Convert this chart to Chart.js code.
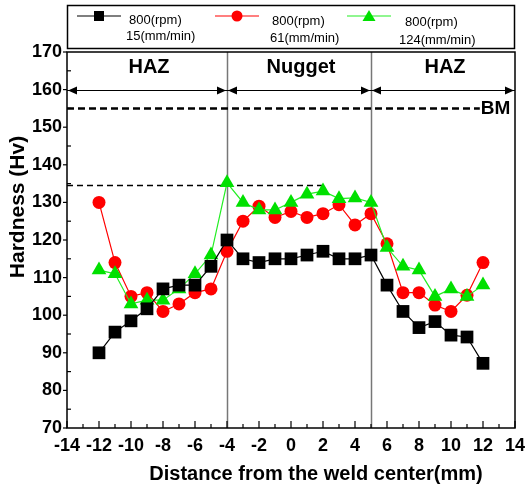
<!DOCTYPE html>
<html><head><meta charset="utf-8">
<script src="https://cdn.jsdelivr.net/npm/chart.js@4/dist/chart.umd.min.js"></script>
<style>html,body{margin:0;padding:0;background:#fff}#wrap{width:529px;height:490px}</style>
</head><body><div id="wrap"><canvas id="c" width="529" height="490"></canvas></div>
<script>
const distances = [-12,-11,-10,-9,-8,-7,-6,-5,-4,-3,-2,-1,0,1,2,3,4,5,6,7,8,9,10,11,12];
const hv15  = [90,95.5,98.5,101.7,107,108,108,113,120,115,114,115,115,116,117,115,115,116,108,101,96.7,98.3,94.7,94.2,87.2];
const hv61  = [130,114,105,106,101,103,106,107,117,125,129,126,127.6,126,127,129.4,124,127,119,106,106,102.7,101,105.3,114];
const hv124 = [112,111,103,104,104,107,111,116,135.2,130,128,128,130,132.2,133,131,131.2,130,118,113,112,105,107,105,108];
const seriesLabels = [["800(rpm)","15(mm/min)"],["800(rpm)","61(mm/min)"],["800(rpm)","124(mm/min)"]];
const zoneBounds = [-14,-4,5,14];
const zoneNames = ["HAZ","Nugget","HAZ"];
const bmLevel = 155, zoneLevel = 160, peakLevel = 134.5, peakEnd = 2, bmEnd = 11.8;
const xTitle = "Distance from the weld center(mm)";
const yTitle = "Hardness (Hv)";

const FONT = '"Liberation Sans", Arial, sans-serif';
const pts = arr => distances.map((d,i)=>({x:d,y:arr[i]}));

const annot = {
  id:'annot',
  beforeDatasetsDraw(chart){
    const ctx=chart.ctx, xs=chart.scales.x, ys=chart.scales.y, a=chart.chartArea;
    ctx.save();
    ctx.strokeStyle='#777'; ctx.lineWidth=1.5;
    [zoneBounds[1],zoneBounds[2]].forEach(v=>{
      const px=Math.round(xs.getPixelForValue(v))+0.5;
      ctx.beginPath(); ctx.moveTo(px,a.top); ctx.lineTo(px,a.bottom); ctx.stroke();
    });
    ctx.strokeStyle='#000'; ctx.lineWidth=2.5; ctx.setLineDash([7,4]);
    let py=ys.getPixelForValue(bmLevel);
    ctx.beginPath(); ctx.moveTo(a.left,py); ctx.lineTo(xs.getPixelForValue(bmEnd),py); ctx.stroke();
    ctx.lineWidth=1.3; ctx.setLineDash([6,4]);
    py=ys.getPixelForValue(peakLevel);
    ctx.beginPath(); ctx.moveTo(a.left,py); ctx.lineTo(xs.getPixelForValue(peakEnd),py); ctx.stroke();
    ctx.setLineDash([]);
    py=Math.round(ys.getPixelForValue(zoneLevel))+0.5;
    ctx.lineWidth=1.2;
    ctx.beginPath(); ctx.moveTo(a.left,py); ctx.lineTo(a.right,py); ctx.stroke();
    ctx.fillStyle='#000';
    const head=(x,dir)=>{ctx.beginPath();ctx.moveTo(x,py);ctx.lineTo(x-dir*9,py-4);ctx.lineTo(x-dir*9,py+4);ctx.closePath();ctx.fill();};
    for(let i=0;i<zoneNames.length;i++){
      const x0=xs.getPixelForValue(zoneBounds[i]), x1=xs.getPixelForValue(zoneBounds[i+1]);
      head(x0+1,-1); head(x1-1,1);
      ctx.font='bold 20px '+FONT; ctx.textAlign='center'; ctx.textBaseline='middle';
      ctx.fillText(zoneNames[i],(x0+x1)/2+2,ys.getPixelForValue(166));
    }
    ctx.font='bold 19px '+FONT; ctx.textAlign='left';
    ctx.fillText('BM',xs.getPixelForValue(bmEnd)+1,ys.getPixelForValue(bmLevel));
    ctx.restore();
  },
  afterDraw(chart){
    const ctx=chart.ctx, xs=chart.scales.x, ys=chart.scales.y, a=chart.chartArea;
    ctx.save();
    ctx.strokeStyle='#000'; ctx.lineWidth=1.5;
    ctx.strokeRect(a.left,a.top,a.right-a.left,a.bottom-a.top);
    ctx.lineWidth=1.2;
    for(let v=-14;v<=14;v++){
      const px=xs.getPixelForValue(v), len=(v%2===0)?7:4;
      ctx.beginPath(); ctx.moveTo(px,a.bottom); ctx.lineTo(px,a.bottom-len); ctx.stroke();
    }
    for(let v=70;v<=170;v+=5){
      const p=ys.getPixelForValue(v);
      ctx.beginPath();
      if(v%10===0){ctx.moveTo(a.left-4,p);ctx.lineTo(a.left,p);} else {ctx.moveTo(a.left,p);ctx.lineTo(a.left+4,p);}
      ctx.stroke();
    }
    ctx.fillStyle='#000'; ctx.textAlign='center'; ctx.textBaseline='middle';
    ctx.font='bold 20px '+FONT;
    ctx.fillText(xTitle,316,474);
    ctx.save(); ctx.translate(18,207); ctx.rotate(-Math.PI/2);
    ctx.font='bold 21px '+FONT; ctx.fillText(yTitle,0,0); ctx.restore();
    ctx.lineWidth=1.5; ctx.strokeRect(67.5,5.5,447,43);
    const items=[
      {x:77,color:'#000',mk:'sq',tx:[129,126]},
      {x:215,color:'#ff0000',mk:'ci',tx:[272,270]},
      {x:347,color:'#22ee22',mk:'tr',tx:[405,399]}
    ];
    items.forEach((it,i)=>{
      const ly=16;
      ctx.strokeStyle=it.color; ctx.lineWidth=1.2;
      ctx.beginPath(); ctx.moveTo(it.x,ly); ctx.lineTo(it.x+44,ly); ctx.stroke();
      const cx=it.x+22;
      ctx.fillStyle= i===2?'#00e000':it.color;
      ctx.beginPath();
      if(it.mk==='sq'){ctx.rect(cx-5,ly-5,10,10);}
      else if(it.mk==='ci'){ctx.arc(cx,ly,5.5,0,Math.PI*2);}
      else {ctx.moveTo(cx,ly-6);ctx.lineTo(cx+6.5,ly+5);ctx.lineTo(cx-6.5,ly+5);ctx.closePath();}
      ctx.fill();
      ctx.fillStyle='#000'; ctx.font='13px '+FONT; ctx.textAlign='left'; ctx.textBaseline='middle';
      ctx.fillText(seriesLabels[i][0],it.tx[0],20+i);
      ctx.fillText(seriesLabels[i][1],it.tx[1],36+i*2);
    });
    ctx.restore();
  }
};

new Chart(document.getElementById('c'),{
  type:'line',
  data:{datasets:[
    {label:'15',data:pts(hv15),borderColor:'#000',backgroundColor:'#000',borderWidth:1.2,pointStyle:'rect',pointRadius:9,pointBorderWidth:0,order:0},
    {label:'61',data:pts(hv61),borderColor:'#ff0000',backgroundColor:'#ff0000',borderWidth:1.2,pointStyle:'circle',pointRadius:6.5,pointBorderWidth:0,order:2},
    {label:'124',data:pts(hv124),borderColor:'#22ee22',backgroundColor:'#00e000',borderWidth:1.2,pointStyle:'triangle',pointRadius:8.5,pointBorderWidth:0,order:1}
  ]},
  options:{
    responsive:false,animation:false,
    layout:{padding:{top:52,right:14,left:0,bottom:0}},
    plugins:{legend:{display:false},tooltip:{enabled:false}},
    elements:{line:{tension:0}},
    scales:{
      x:{type:'linear',min:-14,max:14,
        afterFit(s){s.height=62;s.paddingLeft=0;s.paddingRight=0;},
        grid:{display:false,drawTicks:false},border:{display:false},
        ticks:{stepSize:2,padding:7,maxRotation:0,minRotation:0,autoSkip:false,color:'#000',font:{family:FONT,size:18,weight:'bold'}}},
      y:{min:70,max:170,
        afterFit(s){s.width=67;s.paddingTop=0;s.paddingBottom=0;},
        grid:{display:false,drawTicks:false},border:{display:false},
        ticks:{stepSize:10,padding:5,color:'#000',font:{family:FONT,size:18,weight:'bold'}}}
    }
  },
  plugins:[annot]
});
</script></body></html>
